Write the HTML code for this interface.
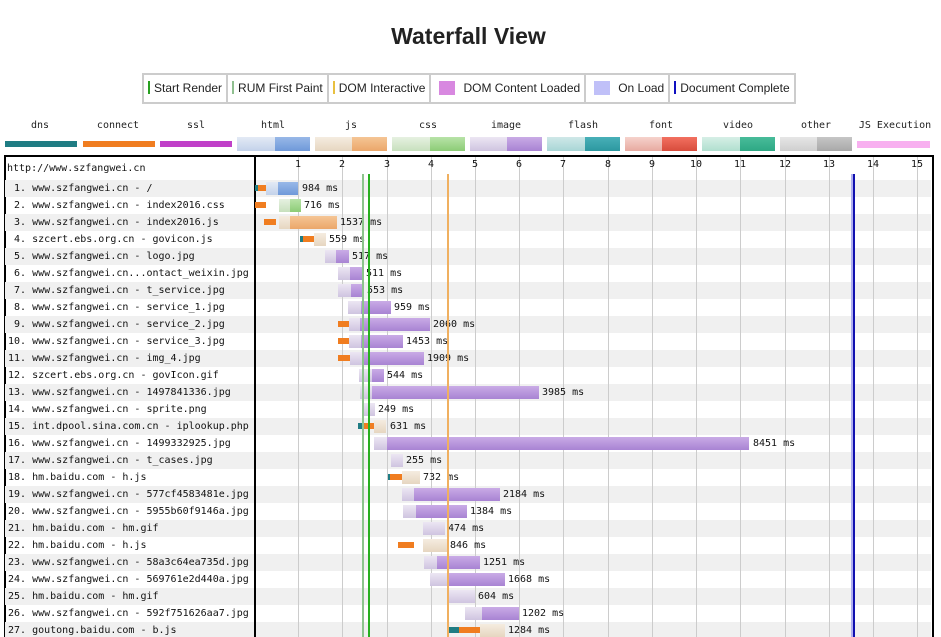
<!DOCTYPE html>
<html><head><meta charset="utf-8"><style>
html,body{margin:0;width:941px;height:637px;overflow:hidden}
body{background:#fff;position:relative;font-family:"DejaVu Sans Mono","Liberation Mono",monospace;}
.a{position:absolute}
h1{position:absolute;top:23px;left:0;width:937px;text-align:center;margin:0;font:bold 23px "Liberation Sans",sans-serif;color:#222}
.leg{position:absolute;top:73px;left:142px;height:27px;border:2px solid #ccc;display:flex;font:12px "Liberation Sans",sans-serif;color:#222}
.leg div{border-right:2px solid #ccc;padding:0 4px;line-height:27px;white-space:nowrap}
.leg div:last-child{border-right:none}
.mk{display:inline-block;width:2px;height:13px;vertical-align:-2px;margin-right:4px}
.sq{display:inline-block;width:16px;height:14px;vertical-align:-3px;margin-right:8px;margin-left:4px}
.tl{position:absolute;top:120px;font-size:10px;color:#222;text-align:center;width:72px}
.tb{position:absolute;top:140px;height:8px;width:72px}
.tb2{position:absolute;top:137px;height:14px;width:72px}
.row{position:absolute;left:5px;width:926px;height:17px}
.g{background:#f0f0f0}
.nm{position:absolute;left:8px;font-size:10px;line-height:17px;color:#111;white-space:pre}
.b{position:absolute;height:13px}
.c{position:absolute;height:6px;background:#f07d20}
.d{position:absolute;height:6px;background:#1f7c83}
.l{position:absolute;font-size:10px;line-height:17px;color:#111;white-space:pre}
.vl{position:absolute;top:157px;width:1px;height:480px;background:#ccc}
.tk{position:absolute;top:159px;font-size:10px;color:#111;width:20px;text-align:center}
.hl{background:linear-gradient(#e3eaf5,#c3d2ea)}.hd{background:linear-gradient(#98b8e8,#6f99d9)}
.jl{background:linear-gradient(#f5ece0,#e6d6c0)}.jd{background:linear-gradient(#f5c595,#eba76a)}
.cl{background:linear-gradient(#e6f1e1,#c7e0bd)}.cd{background:linear-gradient(#b8e3a8,#8ccc76)}
.il{background:linear-gradient(#ece6f3,#cfc4e0)}.id{background:linear-gradient(#c9abe6,#a883d3)}
.fl{background:linear-gradient(#cfe8e8,#a8d6d6)}.fd{background:linear-gradient(#48b0b8,#2c98a0)}
.nl{background:linear-gradient(#f6d2cc,#e8aaa0)}.nd{background:linear-gradient(#f27060,#d84c3c)}
.vll{background:linear-gradient(#d6efe6,#b0dfcf)}.vd{background:linear-gradient(#48bc9a,#2ea884)}
.ol{background:linear-gradient(#e6e6e6,#cfcfcf)}.od{background:linear-gradient(#c6c6c6,#a8a8a8)}
</style></head><body>
<h1>Waterfall View</h1>
<div class="leg">
<div><span class="mk" style="background:#28a020"></span>Start Render</div>
<div><span class="mk" style="background:#90c090"></span>RUM First Paint</div>
<div><span class="mk" style="background:#e8c040"></span>DOM Interactive</div>
<div><span class="sq" style="background:#d888e0"></span>DOM Content Loaded</div>
<div><span class="sq" style="background:#c0c0f8"></span>On Load</div>
<div><span class="mk" style="background:#1010c0"></span>Document Complete</div>
</div>

<div class="tl" style="left:4px">dns</div><div class="tb" style="left:5px;top:141px;height:6px;background:#1f7c83"></div>
<div class="tl" style="left:82px">connect</div><div class="tb" style="left:83px;top:141px;height:6px;background:#f07d20"></div>
<div class="tl" style="left:160px">ssl</div><div class="tb" style="left:160px;top:141px;height:6px;background:#c040c8"></div>
<div class="tl" style="left:237px">html</div><div class="tb2 hl" style="left:237px;width:38px"></div><div class="tb2 hd" style="left:275px;width:35px"></div>
<div class="tl" style="left:315px">js</div><div class="tb2 jl" style="left:315px;width:37px"></div><div class="tb2 jd" style="left:352px;width:35px"></div>
<div class="tl" style="left:392px">css</div><div class="tb2 cl" style="left:392px;width:38px"></div><div class="tb2 cd" style="left:430px;width:35px"></div>
<div class="tl" style="left:470px">image</div><div class="tb2 il" style="left:470px;width:37px"></div><div class="tb2 id" style="left:507px;width:35px"></div>
<div class="tl" style="left:547px">flash</div><div class="tb2 fl" style="left:547px;width:38px"></div><div class="tb2 fd" style="left:585px;width:35px"></div>
<div class="tl" style="left:625px">font</div><div class="tb2 nl" style="left:625px;width:37px"></div><div class="tb2 nd" style="left:662px;width:35px"></div>
<div class="tl" style="left:702px">video</div><div class="tb2 vll" style="left:702px;width:38px"></div><div class="tb2 vd" style="left:740px;width:35px"></div>
<div class="tl" style="left:780px">other</div><div class="tb2 ol" style="left:780px;width:37px"></div><div class="tb2 od" style="left:817px;width:35px"></div>
<div class="tl" style="left:855px;width:80px">JS Execution</div><div class="tb" style="left:857px;top:141px;height:7px;width:73px;background:#f8b0f0"></div>

<div class="a" style="left:4px;top:155px;width:926px;height:500px;border:2px solid #000"></div>

<div class="row g" style="top:180px"></div>
<div class="row g" style="top:214px"></div><div class="row g" style="top:248px"></div>
<div class="row g" style="top:282px"></div><div class="row g" style="top:316px"></div>
<div class="row g" style="top:350px"></div><div class="row g" style="top:384px"></div>
<div class="row g" style="top:418px"></div><div class="row g" style="top:452px"></div>
<div class="row g" style="top:486px"></div><div class="row g" style="top:520px"></div>
<div class="row g" style="top:554px"></div><div class="row g" style="top:588px"></div>
<div class="row g" style="top:622px"></div>

<div class="a" style="left:254px;top:157px;width:2px;height:480px;background:#000"></div>
<div class="vl" style="left:298px"></div><div class="vl" style="left:342px"></div><div class="vl" style="left:387px"></div><div class="vl" style="left:431px"></div><div class="vl" style="left:475px"></div><div class="vl" style="left:519px"></div><div class="vl" style="left:563px"></div><div class="vl" style="left:608px"></div><div class="vl" style="left:652px"></div><div class="vl" style="left:696px"></div><div class="vl" style="left:740px"></div><div class="vl" style="left:785px"></div><div class="vl" style="left:829px"></div><div class="vl" style="left:873px"></div><div class="vl" style="left:917px"></div>
<div class="tk" style="left:288px">1</div><div class="tk" style="left:332px">2</div><div class="tk" style="left:377px">3</div><div class="tk" style="left:421px">4</div><div class="tk" style="left:465px">5</div><div class="tk" style="left:509px">6</div><div class="tk" style="left:553px">7</div><div class="tk" style="left:598px">8</div><div class="tk" style="left:642px">9</div><div class="tk" style="left:686px">10</div><div class="tk" style="left:730px">11</div><div class="tk" style="left:775px">12</div><div class="tk" style="left:819px">13</div><div class="tk" style="left:863px">14</div><div class="tk" style="left:907px">15</div>
<div class="nm" style="top:160px;left:7px">http://www.szfangwei.cn</div>

<div class="nm" style="top:180px"> 1. www.szfangwei.cn - /
 2. www.szfangwei.cn - index2016.css
 3. www.szfangwei.cn - index2016.js
 4. szcert.ebs.org.cn - govicon.js
 5. www.szfangwei.cn - logo.jpg
 6. www.szfangwei.cn...ontact_weixin.jpg
 7. www.szfangwei.cn - t_service.jpg
 8. www.szfangwei.cn - service_1.jpg
 9. www.szfangwei.cn - service_2.jpg
10. www.szfangwei.cn - service_3.jpg
11. www.szfangwei.cn - img_4.jpg
12. szcert.ebs.org.cn - govIcon.gif
13. www.szfangwei.cn - 1497841336.jpg
14. www.szfangwei.cn - sprite.png
15. int.dpool.sina.com.cn - iplookup.php
16. www.szfangwei.cn - 1499332925.jpg
17. www.szfangwei.cn - t_cases.jpg
18. hm.baidu.com - h.js
19. www.szfangwei.cn - 577cf4583481e.jpg
20. www.szfangwei.cn - 5955b60f9146a.jpg
21. hm.baidu.com - hm.gif
22. hm.baidu.com - h.js
23. www.szfangwei.cn - 58a3c64ea735d.jpg
24. www.szfangwei.cn - 569761e2d440a.jpg
25. hm.baidu.com - hm.gif
26. www.szfangwei.cn - 592f751626aa7.jpg
27. goutong.baidu.com - b.js</div>

<div class="d" style="left:255px;top:185px;width:3px"></div><div class="c" style="left:258px;top:185px;width:8px"></div><div class="b hl" style="left:266px;top:182px;width:12px"></div><div class="b hd" style="left:278px;top:182px;width:20px"></div><div class="l" style="left:302px;top:180px">984 ms</div>
<div class="c" style="left:255px;top:202px;width:11px"></div><div class="b cl" style="left:279px;top:199px;width:11px"></div><div class="b cd" style="left:290px;top:199px;width:11px"></div><div class="l" style="left:304px;top:197px">716 ms</div>
<div class="c" style="left:264px;top:219px;width:12px"></div><div class="b jl" style="left:279px;top:216px;width:11px"></div><div class="b jd" style="left:290px;top:216px;width:47px"></div><div class="l" style="left:340px;top:214px">1537 ms</div>
<div class="d" style="left:300px;top:236px;width:3px"></div><div class="c" style="left:303px;top:236px;width:11px"></div><div class="b jl" style="left:314px;top:233px;width:12px"></div><div class="l" style="left:329px;top:231px">559 ms</div>
<div class="b il" style="left:325px;top:250px;width:11px"></div><div class="b id" style="left:336px;top:250px;width:13px"></div><div class="l" style="left:352px;top:248px">517 ms</div>
<div class="b il" style="left:338px;top:267px;width:12px"></div><div class="b id" style="left:350px;top:267px;width:13px"></div><div class="l" style="left:366px;top:265px">511 ms</div>
<div class="b il" style="left:338px;top:284px;width:13px"></div><div class="b id" style="left:351px;top:284px;width:13px"></div><div class="l" style="left:367px;top:282px">553 ms</div>
<div class="b il" style="left:348px;top:301px;width:13px"></div><div class="b id" style="left:361px;top:301px;width:30px"></div><div class="l" style="left:394px;top:299px">959 ms</div>
<div class="c" style="left:338px;top:321px;width:11px"></div><div class="b il" style="left:349px;top:318px;width:11px"></div><div class="b id" style="left:360px;top:318px;width:70px"></div><div class="l" style="left:433px;top:316px">2060 ms</div>
<div class="c" style="left:338px;top:338px;width:11px"></div><div class="b il" style="left:349px;top:335px;width:12px"></div><div class="b id" style="left:361px;top:335px;width:42px"></div><div class="l" style="left:406px;top:333px">1453 ms</div>
<div class="c" style="left:338px;top:355px;width:12px"></div><div class="b il" style="left:350px;top:352px;width:12px"></div><div class="b id" style="left:362px;top:352px;width:62px"></div><div class="l" style="left:427px;top:350px">1909 ms</div>
<div class="b il" style="left:359px;top:369px;width:13px"></div><div class="b id" style="left:372px;top:369px;width:12px"></div><div class="l" style="left:387px;top:367px">544 ms</div>
<div class="b il" style="left:360px;top:386px;width:12px"></div><div class="b id" style="left:372px;top:386px;width:167px"></div><div class="l" style="left:542px;top:384px">3985 ms</div>
<div class="b il" style="left:362px;top:403px;width:13px"></div><div class="l" style="left:378px;top:401px">249 ms</div>
<div class="d" style="left:358px;top:423px;width:4px"></div><div class="c" style="left:362px;top:423px;width:12px"></div><div class="b jl" style="left:374px;top:420px;width:12px"></div><div class="l" style="left:390px;top:418px">631 ms</div>
<div class="b il" style="left:374px;top:437px;width:13px"></div><div class="b id" style="left:387px;top:437px;width:362px"></div><div class="l" style="left:753px;top:435px">8451 ms</div>
<div class="b il" style="left:391px;top:454px;width:12px"></div><div class="l" style="left:406px;top:452px">255 ms</div>
<div class="d" style="left:388px;top:474px;width:2px"></div><div class="c" style="left:390px;top:474px;width:12px"></div><div class="b jl" style="left:402px;top:471px;width:18px"></div><div class="l" style="left:423px;top:469px">732 ms</div>
<div class="b il" style="left:402px;top:488px;width:12px"></div><div class="b id" style="left:414px;top:488px;width:86px"></div><div class="l" style="left:503px;top:486px">2184 ms</div>
<div class="b il" style="left:403px;top:505px;width:13px"></div><div class="b id" style="left:416px;top:505px;width:51px"></div><div class="l" style="left:470px;top:503px">1384 ms</div>
<div class="b il" style="left:423px;top:522px;width:22px"></div><div class="l" style="left:448px;top:520px">474 ms</div>
<div class="c" style="left:398px;top:542px;width:16px"></div><div class="b jl" style="left:423px;top:539px;width:24px"></div><div class="l" style="left:450px;top:537px">846 ms</div>
<div class="b il" style="left:424px;top:556px;width:13px"></div><div class="b id" style="left:437px;top:556px;width:43px"></div><div class="l" style="left:483px;top:554px">1251 ms</div>
<div class="b il" style="left:430px;top:573px;width:17px"></div><div class="b id" style="left:447px;top:573px;width:58px"></div><div class="l" style="left:508px;top:571px">1668 ms</div>
<div class="b il" style="left:447px;top:590px;width:28px"></div><div class="l" style="left:478px;top:588px">604 ms</div>
<div class="b il" style="left:465px;top:607px;width:17px"></div><div class="b id" style="left:482px;top:607px;width:37px"></div><div class="l" style="left:522px;top:605px">1202 ms</div>
<div class="d" style="left:447px;top:627px;width:12px"></div><div class="c" style="left:459px;top:627px;width:21px"></div><div class="b jl" style="left:480px;top:624px;width:25px"></div><div class="l" style="left:508px;top:622px">1284 ms</div>

<div class="a" style="left:362px;top:174px;width:2px;height:463px;background:#8cc48c"></div>
<div class="a" style="left:368px;top:174px;width:2px;height:463px;background:#28b020"></div>
<div class="a" style="left:447px;top:174px;width:2px;height:463px;background:#f0b060"></div>
<div class="a" style="left:851px;top:174px;width:2px;height:463px;background:#b0b0f0"></div>
<div class="a" style="left:853px;top:174px;width:2px;height:463px;background:#1010b0"></div>
</body></html>
